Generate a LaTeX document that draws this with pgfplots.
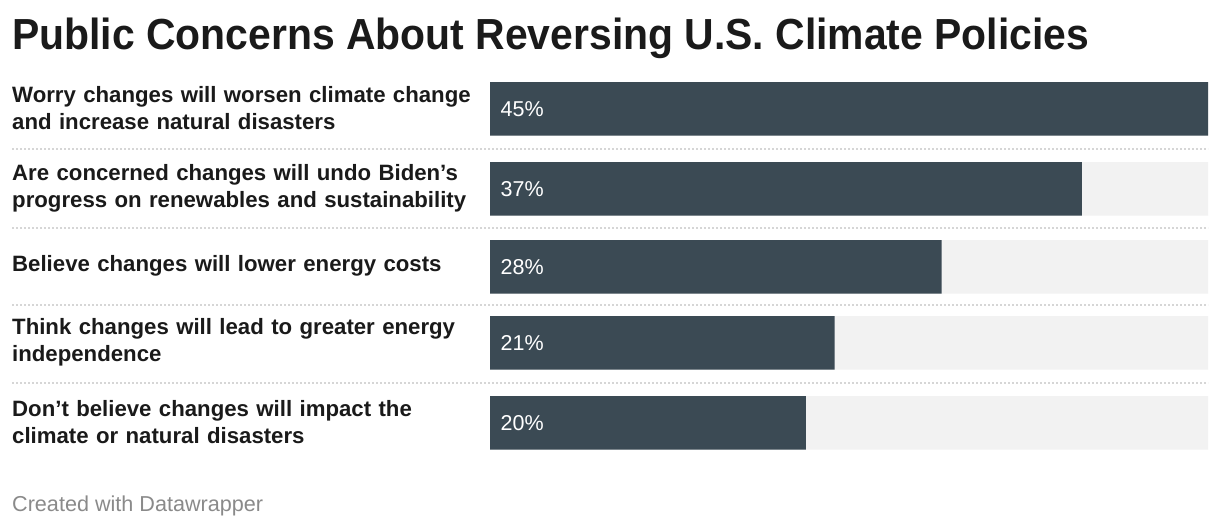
\documentclass[border=0pt]{standalone}
\usepackage{fontspec}
\setmainfont{Liberation Sans}
\newfontfamily\titlefont[FakeStretch=0.94]{Liberation Sans}
\usepackage{pgfplots}
\pgfplotsset{compat=1.18}
\usepackage{pgfplotstable}
\definecolor{barc}{HTML}{3B4A54}
\definecolor{bgc}{HTML}{F2F2F2}
\definecolor{sepc}{HTML}{D6D6D6}
\definecolor{txt}{HTML}{1A1A1A}
\definecolor{foot}{HTML}{8A8A8A}

\pgfplotstableread{
y share
-109 45.0
-189 37.1
-267 28.3
-343 21.6
-423 19.8
}\shares

\begin{document}
\begin{tikzpicture}
\useasboundingbox (0,0) rectangle (1220pt,530pt);
\fill[white] (0,0) rectangle (1220pt,530pt);
\node[anchor=base west, inner sep=0pt, text=txt, font=\titlefont\fontsize{43.5}{50}\selectfont\bfseries] at (12pt,480pt) {Public Concerns About Reversing U.S. Climate Policies};
\node[anchor=base west, inner sep=0pt, text=foot, font=\fontsize{21.6}{24}\selectfont] at (12pt,18.3pt) {Created with Datawrapper};
\foreach \yy in {381,302,225,147}{
  \draw[sepc, line width=2pt, dash pattern=on 2pt off 2pt] (12pt,\yy pt) -- (1208pt,\yy pt);
}
\begin{axis}[
  at={(490pt,64pt)}, anchor=south west,
  scale only axis, width=718pt, height=400pt,
  xmin=0, xmax=45, ymin=-466, ymax=-66,
  axis line style={draw=none}, xtick=\empty, major tick length=0pt,
  clip=false,
  ytick={-109,-189,-267,-343,-423},
  yticklabels={{Worry changes will worsen climate change\\and increase natural disasters},
               {Are concerned changes will undo Biden’s\\progress on renewables and sustainability},
               {Believe changes will lower energy costs},
               {Think changes will lead to greater energy\\independence},
               {Don’t believe changes will impact the\\climate or natural disasters}},
  yticklabel style={anchor=west, xshift=-478pt, yshift=1pt, align=left, text width=470pt, inner sep=0pt,
    font=\fontsize{22.2}{27}\selectfont\bfseries, text=txt},
]
\addplot[xbar, bar width=53.5pt, bar shift=0pt, fill=bgc, draw=none]
  coordinates {(45,-109) (45,-189) (45,-267) (45,-343) (45,-423)};
\addplot[xbar, bar width=53.5pt, bar shift=0pt, fill=barc, draw=none]
  table[x=share, y=y] {\shares};
\addplot[xbar, bar width=53.5pt, bar shift=0pt, fill=none, draw=none,
  nodes near coords, point meta=explicit symbolic,
  nodes near coords style={anchor=west, inner sep=0pt, xshift=10.5pt, text=white,
    font=\fontsize{21.5}{24}\selectfont}]
  coordinates {(0,-109) [45\%] (0,-189) [37\%] (0,-267) [28\%] (0,-343) [21\%] (0,-423) [20\%]};
\end{axis}
\end{tikzpicture}
\end{document}
